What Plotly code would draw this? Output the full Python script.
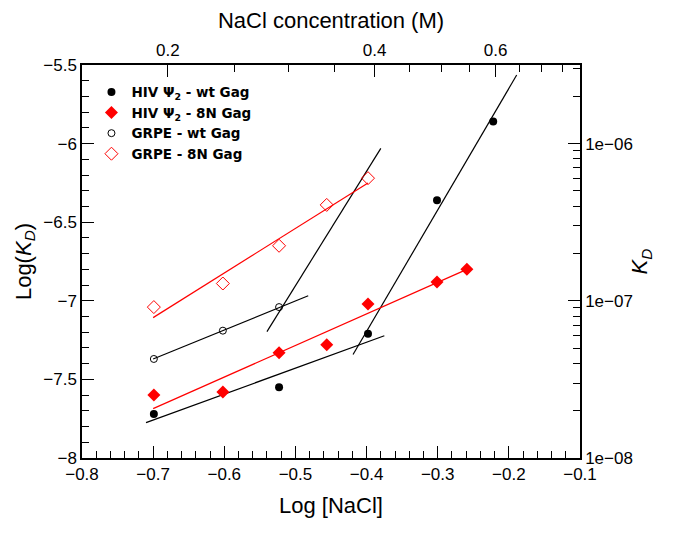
import plotly.graph_objects as go

# ---- data ----
hiv_wt_x = [-0.699, -0.523, -0.398, -0.301, -0.222]
hiv_wt_y = [-7.72, -7.55, -7.21, -6.36, -5.86]

hiv_8n_x = [-0.699, -0.602, -0.523, -0.456, -0.398, -0.301, -0.259]
hiv_8n_y = [-7.60, -7.58, -7.33, -7.28, -7.02, -6.88, -6.80]

grpe_wt_x = [-0.699, -0.602, -0.523]
grpe_wt_y = [-7.37, -7.19, -7.04]

grpe_8n_x = [-0.699, -0.602, -0.523, -0.456, -0.398]
grpe_8n_y = [-7.04, -6.89, -6.65, -6.39, -6.22]

# fitted lines (end points)
fit_hiv_wt_low_x = [-0.71, -0.375]
fit_hiv_wt_low_y = [-7.775, -7.222]
fit_hiv_wt_high_x = [-0.419, -0.189]
fit_hiv_wt_high_y = [-7.342, -5.564]
fit_grpe_wt_low_x = [-0.70, -0.482]
fit_grpe_wt_low_y = [-7.37, -6.968]
fit_grpe_wt_high_x = [-0.54, -0.38]
fit_grpe_wt_high_y = [-7.196, -6.03]
fit_hiv_8n_x = [-0.70, -0.259]
fit_hiv_8n_y = [-7.686, -6.80]
fit_grpe_8n_x = [-0.70, -0.398]
fit_grpe_8n_y = [-7.107, -6.25]

# top axis (NaCl concentration, M)
top_major = [0.2, 0.4, 0.6]
top_major_text = ["0.2", "0.4", "0.6"]
top_minor = [0.25, 0.3, 0.35, 0.45, 0.5, 0.55, 0.65, 0.7, 0.75]

# right axis (KD)
right_major = [1e-8, 1e-7, 1e-6]
right_major_text = ["1e\u221208", "1e\u221207", "1e\u221206"]

RED = "#ff0000"
BLACK = "#000000"

fig = go.Figure()

def fit(x, y, color):
    fig.add_trace(go.Scatter(x=x, y=y, mode="lines", line=dict(color=color, width=1.2),
                             showlegend=False, hoverinfo="skip"))

fit(fit_hiv_wt_low_x, fit_hiv_wt_low_y, BLACK)
fit(fit_hiv_wt_high_x, fit_hiv_wt_high_y, BLACK)
fit(fit_grpe_wt_low_x, fit_grpe_wt_low_y, BLACK)
fit(fit_grpe_wt_high_x, fit_grpe_wt_high_y, BLACK)
fit(fit_hiv_8n_x, fit_hiv_8n_y, RED)
fit(fit_grpe_8n_x, fit_grpe_8n_y, RED)

fig.add_trace(go.Scatter(x=hiv_wt_x, y=hiv_wt_y, mode="markers", name="HIV \u03a8<sub>2</sub> - wt Gag",
                         marker=dict(symbol="circle", size=8, color=BLACK)))
fig.add_trace(go.Scatter(x=hiv_8n_x, y=hiv_8n_y, mode="markers", name="HIV \u03a8<sub>2</sub> - 8N Gag",
                         marker=dict(symbol="diamond", size=10, color=RED)))
fig.add_trace(go.Scatter(x=grpe_wt_x, y=grpe_wt_y, mode="markers", name="GRPE - wt Gag",
                         marker=dict(symbol="circle-open", size=7, color=BLACK, line=dict(width=1))))
fig.add_trace(go.Scatter(x=grpe_8n_x, y=grpe_8n_y, mode="markers", name="GRPE - 8N Gag",
                         marker=dict(symbol="diamond-open", size=10, color=RED, line=dict(width=1))))

# invisible traces that activate the secondary axes
fig.add_trace(go.Scatter(x=[0.3], y=[-7], xaxis="x2", yaxis="y", mode="markers",
                         marker=dict(opacity=0), showlegend=False, hoverinfo="skip"))
fig.add_trace(go.Scatter(x=[-0.5], y=[1e-7], xaxis="x", yaxis="y2", mode="markers",
                         marker=dict(opacity=0), showlegend=False, hoverinfo="skip"))

FONT = "Liberation Sans"
tickfont = dict(family=FONT, size=17, color="black")
titlefont = dict(family=FONT, size=22, color="black")

common = dict(showgrid=False, zeroline=False, showline=True, linecolor="black", linewidth=1.5,
              ticks="inside", tickcolor="black", tickwidth=1.2, ticklen=12, tickfont=tickfont,
              automargin=False)

minor_right = [m * 10.0 ** e for e in (-8, -7, -6) for m in range(2, 10)]

fig.update_layout(
    width=678, height=533,
    margin=dict(l=74, r=106, t=57, b=83, autoexpand=False),
    paper_bgcolor="white", plot_bgcolor="white",
    font=dict(family=FONT, color="black"),
    xaxis=dict(range=[-0.8, -0.1], dtick=0.1, tick0=-0.8,
               title=dict(text="Log [NaCl]", font=titlefont, standoff=14),
               minor=dict(dtick=0.02, ticklen=7, tickcolor="black", tickwidth=1.2, ticks="inside"),
               **common),
    xaxis2=dict(overlaying="x", side="top", type="log", range=[-0.824, -0.099],
                tickmode="array", tickvals=top_major, ticktext=top_major_text,
                title=dict(text="NaCl concentration (M)", font=titlefont, standoff=8),
                minor=dict(tickmode="array", tickvals=top_minor, ticklen=7, tickcolor="black",
                           tickwidth=1.2, ticks="inside"),
                **common),
    yaxis=dict(range=[-8, -5.5], dtick=0.5, tick0=-8,
               title=dict(text="Log(<i>K<sub>D</sub></i>)", font=titlefont, standoff=6),
               minor=dict(dtick=0.1, ticklen=7, tickcolor="black", tickwidth=1.2, ticks="inside"),
               **common),
    yaxis2=dict(overlaying="y", side="right", type="log", range=[-8, -5.5],
                tickmode="array", tickvals=right_major, ticktext=right_major_text,
                title=dict(text="<i>K<sub>D</sub></i>", font=titlefont, standoff=0),
                minor=dict(tickmode="array", tickvals=minor_right, ticklen=7, tickcolor="black",
                           tickwidth=1.2, ticks="inside"),
                **common),
    legend=dict(x=0.019, y=0.97, xanchor="left", yanchor="top", bgcolor="rgba(0,0,0,0)",
                font=dict(family="DejaVu Sans", size=13.5, color="black", weight="bold"),
                tracegroupgap=0),
    showlegend=True,
)

fig.write_html("out.html")
